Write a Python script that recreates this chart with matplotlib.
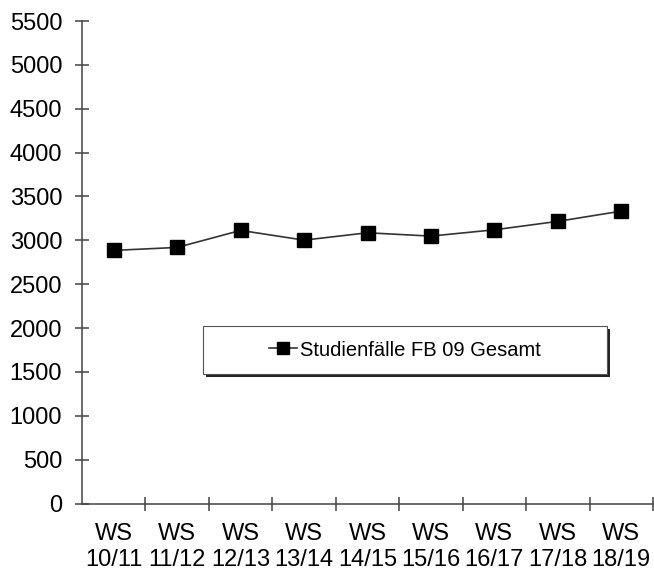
import matplotlib
matplotlib.use("Agg")
import matplotlib.pyplot as plt
from matplotlib.patches import Rectangle

semesters = ["WS\n10/11", "WS\n11/12", "WS\n12/13", "WS\n13/14", "WS\n14/15",
             "WS\n15/16", "WS\n16/17", "WS\n17/18", "WS\n18/19"]
faelle = [2885, 2919, 3113, 3002, 3086, 3048, 3120, 3216, 3333]
yticks = list(range(0, 5501, 500))
series_label = "Studienfälle FB 09 Gesamt"

plt.rcParams["font.family"] = ["Liberation Sans", "DejaVu Sans"]

W, H = 654, 572
fig = plt.figure(figsize=(W / 100, H / 100), dpi=100)
ax = fig.add_axes([82 / W, 1 - 503.5 / H, (653 - 82) / W, (503.5 - 21) / H])

x = list(range(len(faelle)))
ax.plot(x, faelle, color="#333333", linewidth=1.2, marker="s", markersize=9.5,
        markerfacecolor="black", markeredgecolor="black", label=series_label)

ax.set_xlim(-0.5, len(faelle) - 0.5)
ax.set_ylim(0, 5500)
ax.set_yticks(yticks)
ax.set_xticks(x)
ax.set_xticklabels(semesters, fontsize=17, linespacing=1.25)
ax.set_xticks([i + 0.5 for i in range(len(faelle))], minor=True)
ax.tick_params(axis="x", which="major", length=0, pad=14)
ax.tick_params(axis="x", which="minor", direction="inout", length=10, width=1.1,
               color="#444444")
ax.tick_params(axis="y", direction="inout", length=10.5, width=1.1, color="#444444",
               labelsize=17, pad=9)

for side in ("top", "right"):
    ax.spines[side].set_visible(False)
for side in ("left", "bottom"):
    ax.spines[side].set_color("#444444")
    ax.spines[side].set_linewidth(1.1)

# legend box with hard shadow
bx0, bx1, by0, by1 = 203, 607, 326, 374
fig.patches.append(Rectangle((bx0 / W + 3 / W, 1 - (by1 + 3) / H), (bx1 - bx0) / W,
                             (by1 - by0) / H, transform=fig.transFigure,
                             facecolor="#222222", edgecolor="none", zorder=5))
fig.patches.append(Rectangle((bx0 / W, 1 - by1 / H), (bx1 - bx0) / W, (by1 - by0) / H,
                             transform=fig.transFigure, facecolor="white",
                             edgecolor="#555555", linewidth=0.8, zorder=6))
leg = fig.legend(loc="center", bbox_to_anchor=((bx0 + bx1) / 2 / W, 1 - 350 / H),
                 frameon=False, fontsize=14.5, handlelength=1.4, handletextpad=0.15,
                 markerscale=0.85)
leg.set_zorder(7)

fig.savefig("out.png", dpi=100)
